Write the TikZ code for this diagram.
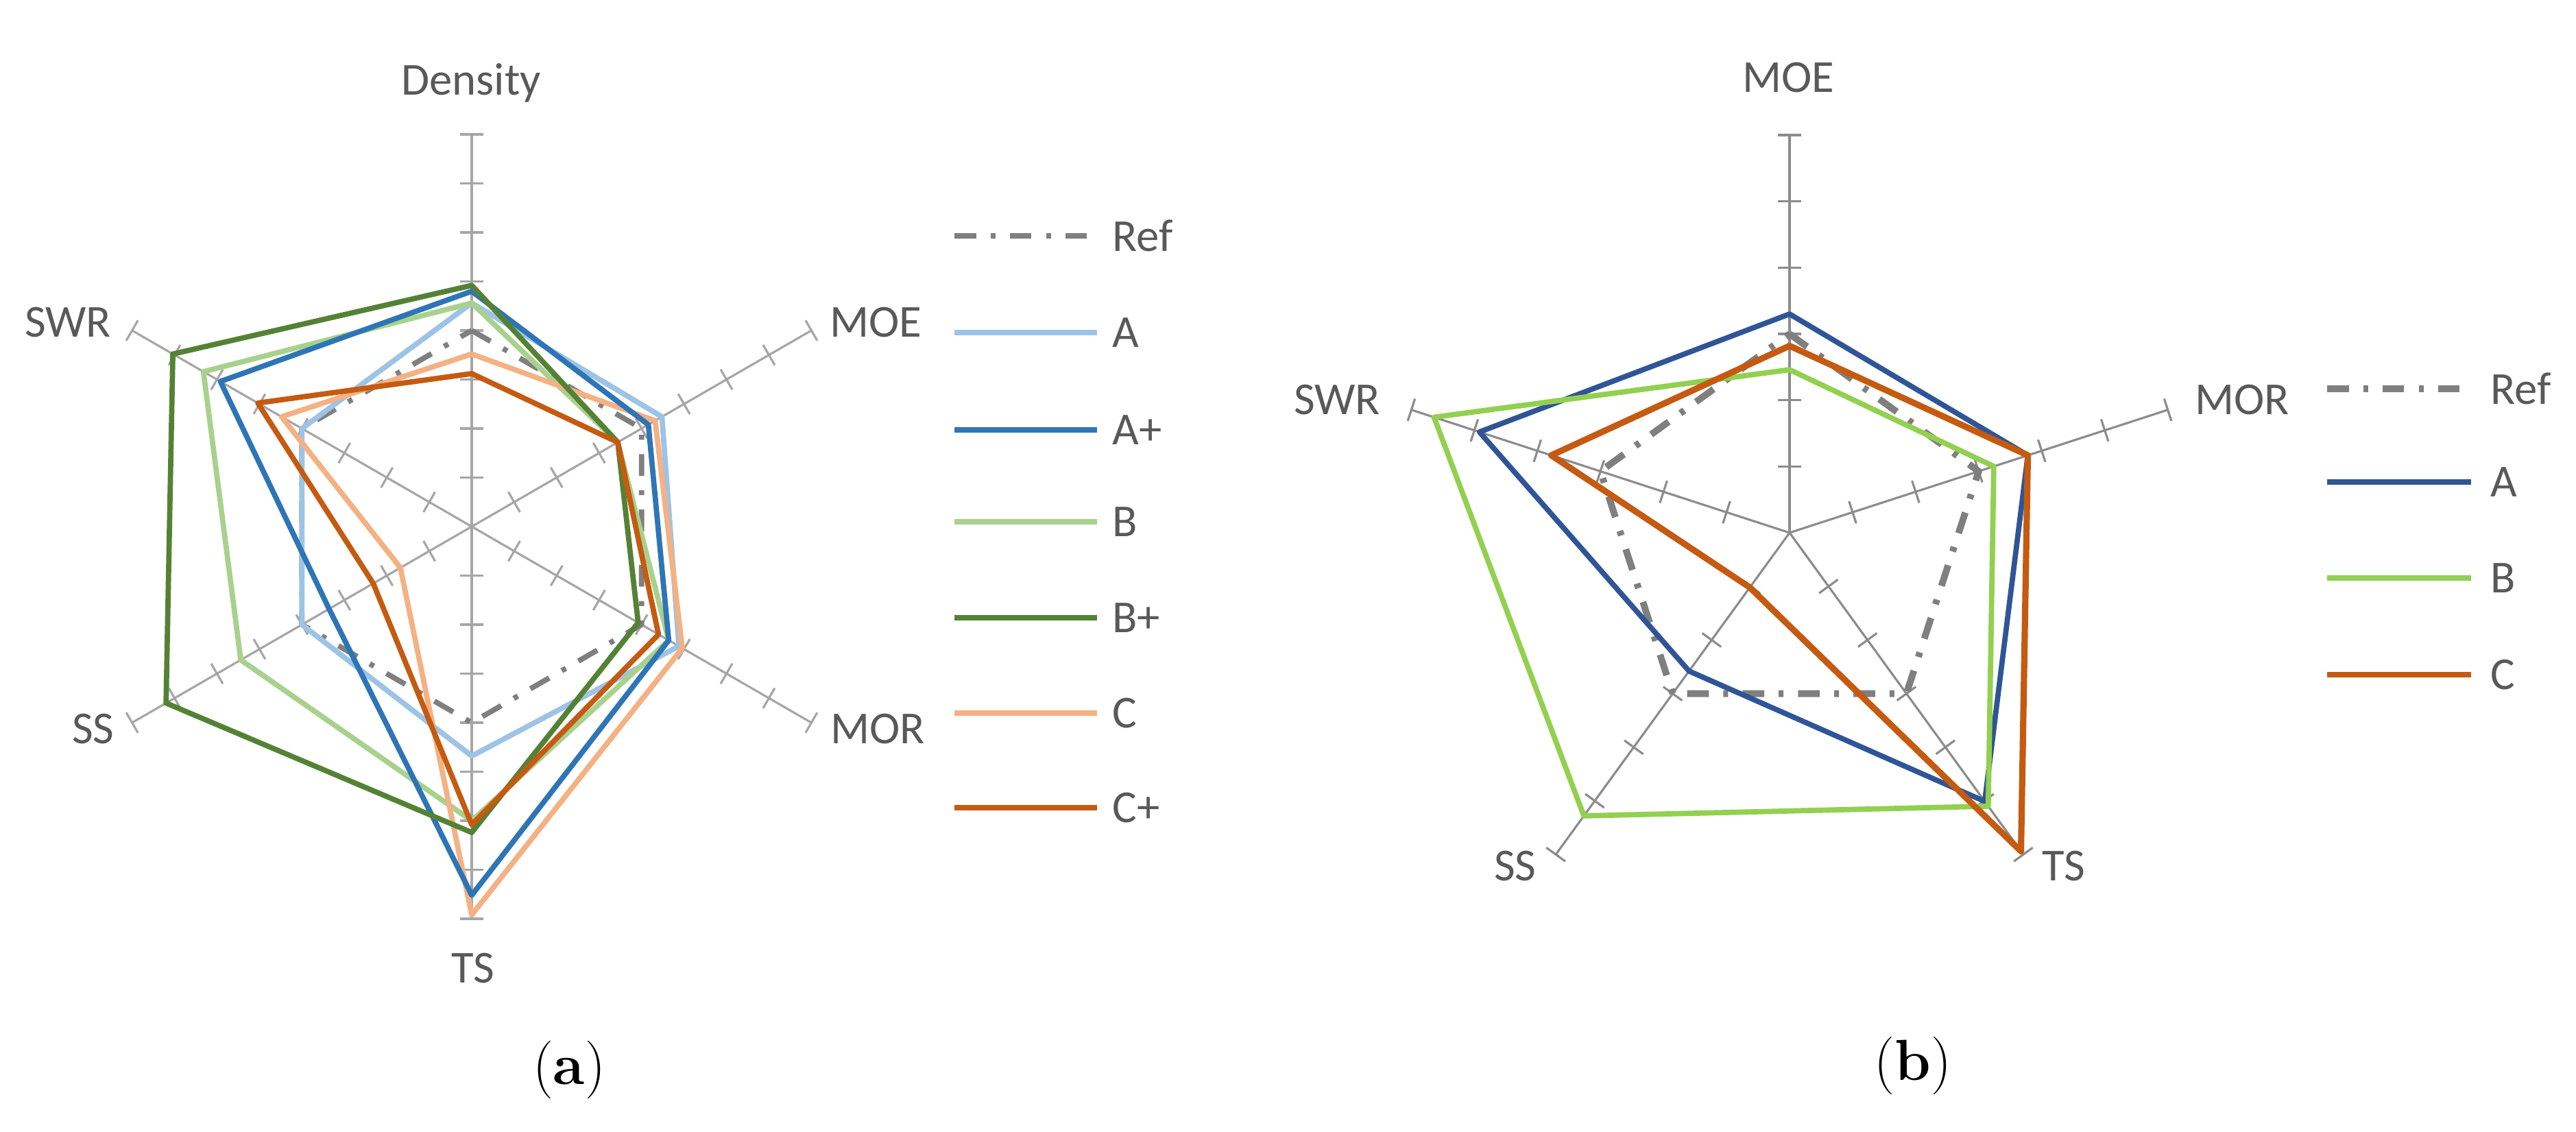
\documentclass[tikz,border=0pt]{standalone}
\usepackage{fontspec}
\setmainfont{Carlito}
\newfontfamily\capfont{Latin Modern Roman}
\usepackage{tikz}
\usetikzlibrary{positioning}

\definecolor{axisgray}{HTML}{A6A6A6}
\definecolor{axisdark}{HTML}{8C8C8C}
\definecolor{refgray}{HTML}{7F7F7F}
\definecolor{labgray}{HTML}{595959}
\definecolor{lblue}{HTML}{9DC3E6}
\definecolor{mblue}{HTML}{2E75B6}
\definecolor{dblue}{HTML}{2F5597}
\definecolor{lgreen}{HTML}{A9D18E}
\definecolor{dgreen}{HTML}{548235}
\definecolor{bgreen}{HTML}{92D050}
\definecolor{lorange}{HTML}{F4B183}
\definecolor{dorange}{HTML}{C55A11}

\tikzset{
  axis/.style={axisgray, line width=0.9pt},
  axisb/.style={axisdark, line width=0.9pt},
  lab/.style={labgray, font=\fontsize{19}{22}\selectfont},
  series/.style={line width=2.2pt, line join=round},
  refline/.style={series, refgray, dash pattern=on 9pt off 6pt on 2pt off 6pt},
  caption/.style={font=\capfont\fontsize{24}{28}\selectfont}
}

\begin{document}
\begin{tikzpicture}
\useasboundingbox (0,0) rectangle (37.57,16.5);

% (a) six-axis chart
\begin{scope}[shift={(6.88,8.82)}]
  \def\ra{5.72}
  \foreach \ang in {90,30,-30,-90,-150,150} {
    \begin{scope}[rotate=\ang]
      \draw[axis] (0,0) -- (\ra,0);
      \foreach \i in {1,...,8}
        \draw[axis] (\i*\ra/8,-0.17) -- (\i*\ra/8,0.17);
    \end{scope}
  }
  % series: Density, MOE, MOR, TS, SS, SWR
  \draw[refline] (90:0.5*\ra) -- (30:0.5*\ra) -- (-30:0.5*\ra) -- (-90:0.5*\ra) -- (-150:0.5*\ra) -- (150:0.5*\ra) -- cycle;
  \draw[series, lblue] (90:0.57*\ra) -- (30:0.56*\ra) -- (-30:0.61*\ra) -- (-90:0.585*\ra) -- (-150:0.5*\ra) -- (150:0.5*\ra) -- cycle;
  \draw[series, lgreen] (90:0.57*\ra) -- (30:0.43*\ra) -- (-30:0.58*\ra) -- (-90:0.75*\ra) -- (-150:0.68*\ra) -- (150:0.79*\ra) -- cycle;
  \draw[series, lorange] (90:0.44*\ra) -- (30:0.54*\ra) -- (-30:0.62*\ra) -- (-90:0.99*\ra) -- (-150:0.21*\ra) -- (150:0.56*\ra) -- cycle;
  \draw[series, mblue] (90:0.6*\ra) -- (30:0.52*\ra) -- (-30:0.58*\ra) -- (-90:0.94*\ra) -- (-150:0.42*\ra) -- (150:0.74*\ra) -- cycle;
  \draw[series, dgreen] (90:0.615*\ra) -- (30:0.43*\ra) -- (-30:0.49*\ra) -- (-90:0.78*\ra) -- (-150:0.9*\ra) -- (150:0.88*\ra) -- cycle;
  \draw[series, dorange] (90:0.39*\ra) -- (30:0.43*\ra) -- (-30:0.55*\ra) -- (-90:0.76*\ra) -- (-150:0.29*\ra) -- (150:0.63*\ra) -- cycle;
\end{scope}

\node[lab] (aden) at (6.87,15.29) {Density};
\node[lab] (amoe) at (12.77,11.8) {MOE};
\node[lab] (amor) at (12.8,5.87) {MOR};
\node[lab] (ats) at (6.9,2.38) {TS};
\node[lab] (ass) at (1.36,5.87) {SS};
\node[lab] (aswr) at (0.99,11.8) {SWR};
\node[caption] (capa) at (8.30,0.90) {(\textbf{a})};

% legend (a)
\coordinate (la1) at (13.92,13.06); \coordinate (la2) at (16.0,13.06);
\draw[refline] (la1) -- (la2);
\node[lab, anchor=west] (lref) at (16.1,13.06) {Ref};
\foreach \col/\txt/\y [count=\k] in {lblue/A/11.65, mblue/A+/10.23, lgreen/B/8.89, dgreen/B+/7.49, lorange/C/6.10, dorange/C+/4.72} {
  \coordinate (lx\k) at (13.92,\y); \coordinate (ly\k) at (16.0,\y);
  \draw[series, \col] (lx\k) -- (ly\k);
  \node[lab, anchor=west] (lt\k) at (16.1,\y) {\txt};
}

% (b) five-axis chart
\begin{scope}[shift={(26.10,8.73)}]
  \def\rb{5.80}
  \foreach \ang in {90,18,-54,-126,162} {
    \begin{scope}[rotate=\ang]
      \draw[axisb] (0,0) -- (\rb,0);
      \foreach \i in {1,...,6}
        \draw[axisb] (\i*\rb/6,-0.17) -- (\i*\rb/6,0.17);
    \end{scope}
  }
  % series: MOE, MOR, TS, SS, SWR
  \draw[refline, line width=2.8pt] (90:0.5*\rb) -- (18:0.5*\rb) -- (-54:0.5*\rb) -- (-126:0.5*\rb) -- (162:0.5*\rb) -- cycle;
  \draw[series, dblue] (90:0.55*\rb) -- (18:0.63*\rb) -- (-54:0.835*\rb) -- (-126:0.43*\rb) -- (162:0.82*\rb) -- cycle;
  \draw[series, bgreen] (90:0.41*\rb) -- (18:0.54*\rb) -- (-54:0.85*\rb) -- (-126:0.88*\rb) -- (162:0.94*\rb) -- cycle;
  \draw[series, dorange, line width=2.6pt] (90:0.47*\rb) -- (18:0.63*\rb) -- (-54:0.99*\rb) -- (-126:0.17*\rb) -- (162:0.63*\rb) -- cycle;
\end{scope}

\node[lab] (bmoe) at (26.08,15.37) {MOE};
\node[lab] (bmor) at (32.7,10.67) {MOR};
\node[lab] (bts) at (30.1,3.87) {TS};
\node[lab] (bss) at (22.1,3.87) {SS};
\node[lab] (bswr) at (19.5,10.67) {SWR};
\node[caption] (capb) at (27.9,0.96) {(\textbf{b})};

% legend (b)
\coordinate (lb1) at (33.94,10.83); \coordinate (lb2) at (36.04,10.83);
\draw[refline, line width=2.8pt] (lb1) -- (lb2);
\node[lab, anchor=west] (lbref) at (36.2,10.83) {Ref};
\foreach \col/\txt/\y [count=\k] in {dblue/A/9.47, bgreen/B/8.07, dorange/C/6.66} {
  \coordinate (mx\k) at (33.94,\y); \coordinate (my\k) at (36.04,\y);
  \draw[series, \col] (mx\k) -- (my\k);
  \node[lab, anchor=west] (mt\k) at (36.2,\y) {\txt};
}
\end{tikzpicture}
\end{document}
